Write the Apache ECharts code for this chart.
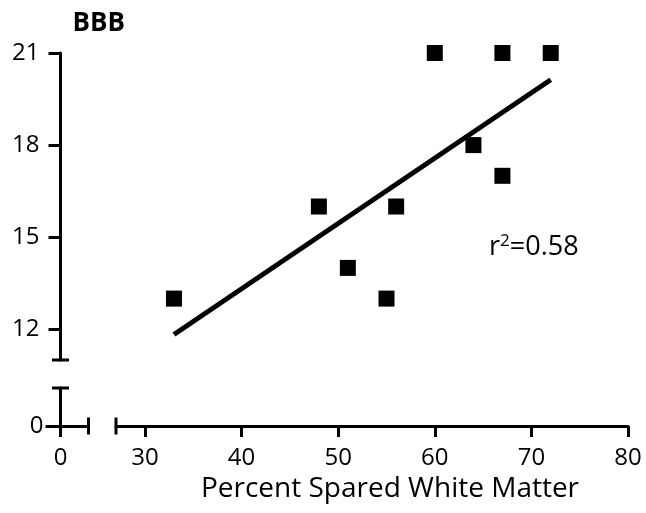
<!DOCTYPE html>
<html>
<head>
<meta charset="utf-8">
<script src="https://cdn.jsdelivr.net/npm/echarts@6/dist/echarts.min.js"></script>
<style>
  html, body { margin: 0; padding: 0; background: #fff; }
  #box { width: 646px; height: 513px; }
</style>
</head>
<body>
<div id="box"></div>
<script>
// data
var spared = [33, 48, 51, 55, 56, 60, 64, 67, 67, 72];
var bbb = [13, 16, 14, 13, 16, 21, 18, 21, 17, 21];
// end points of the fitted line
var fitX = [33, 72];
var fitY = [11.83, 20.13];
var xTicks = [30, 40, 50, 60, 70, 80];
var yTicks = [12, 15, 18, 21];

var font = 'Open Sans';
var black = '#000';

var points = spared.map(function (x, i) { return [x, bbb[i]]; });
var fit = fitX.map(function (x, i) { return [x, fitY[i]]; });

var myChart = echarts.init(document.getElementById('box'));

var option = {
    animation: false,
    grid: [
        // main plot (broken part of both axes)
        { left: 116, right: 18, top: 53, bottom: 153 },
        // little 0 / 0 corner
        { left: 60.5, width: 28, top: 388, height: 38 }
    ],
    xAxis: [
        {
            type: 'value', gridIndex: 0, min: 27, max: 80,
            offset: 66,
            name: 'Percent Spared White Matter',
            nameLocation: 'middle',
            nameGap: 40,
            nameTextStyle: { fontFamily: font, fontSize: 28, color: black, padding: [0, 0, 0, 36] },
            axisLine: { onZero: false, symbol: ['rect', 'none'], symbolSize: [17, 3], lineStyle: { color: black, width: 3 } },
            axisTick: { length: 11, customValues: xTicks, lineStyle: { color: black, width: 3 } },
            axisLabel: { customValues: xTicks, margin: 20, fontFamily: font, fontSize: 24, color: black },
            splitLine: { show: false }
        },
        {
            type: 'value', gridIndex: 1, min: 0, max: 1,
            axisLine: { onZero: false, symbol: ['none', 'rect'], symbolSize: [17, 3], lineStyle: { color: black, width: 3 } },
            axisTick: { length: 11, customValues: [0], lineStyle: { color: black, width: 3 } },
            axisLabel: { customValues: [0], margin: 20, fontFamily: font, fontSize: 24, color: black },
            splitLine: { show: false }
        }
    ],
    yAxis: [
        {
            type: 'value', gridIndex: 0, min: 11, max: 21,
            offset: 55.5,
            name: 'BBB',
            nameLocation: 'end',
            nameGap: 16,
            nameTextStyle: { fontFamily: font, fontSize: 26, fontWeight: 'bold', color: black, align: 'left', padding: [0, 0, 0, 12] },
            axisLine: { onZero: false, symbol: ['rect', 'none'], symbolSize: [17, 3], lineStyle: { color: black, width: 3 } },
            axisTick: { length: 12, customValues: yTicks, lineStyle: { color: black, width: 3 } },
            axisLabel: { customValues: yTicks, margin: 21, padding: [8, 0, 0, 0], fontFamily: font, fontSize: 24, color: black },
            splitLine: { show: false }
        },
        {
            type: 'value', gridIndex: 1, min: 0, max: 1,
            axisLine: { onZero: false, symbol: ['none', 'rect'], symbolSize: [17, 3], lineStyle: { color: black, width: 3 } },
            axisTick: { length: 15, customValues: [0], lineStyle: { color: black, width: 3 } },
            axisLabel: { customValues: [0], margin: 17, padding: [6, 0, 0, 0], fontFamily: font, fontSize: 24, color: black },
            splitLine: { show: false }
        }
    ],
    graphic: [
        {
            type: 'text', left: 489, top: 233,
            style: {
                text: 'r{s|2}=0.58',
                fontFamily: font, fontSize: 27, fill: black,
                rich: { s: { fontFamily: font, fontSize: 17, fill: black, padding: [0, 0, 12, 0] } }
            }
        }
    ],
    series: [
        {
            type: 'line', xAxisIndex: 0, yAxisIndex: 0,
            data: fit, symbol: 'none',
            lineStyle: { color: black, width: 5 }
        },
        {
            type: 'scatter', xAxisIndex: 0, yAxisIndex: 0,
            data: points, symbol: 'rect', symbolSize: 16,
            itemStyle: { color: black, opacity: 1 }
        }
    ]
};

myChart.setOption(option);
</script>
</body>
</html>
